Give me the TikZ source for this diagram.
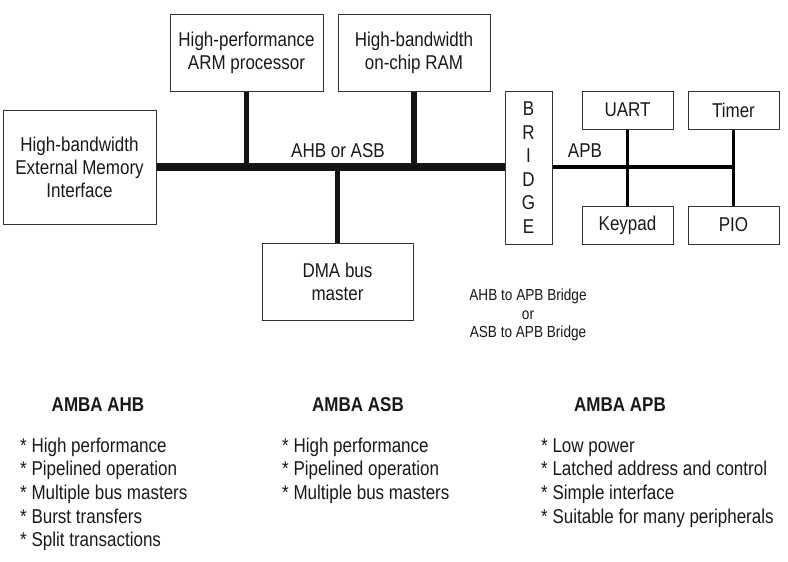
\documentclass[tikz,border=0pt]{standalone}
\usepackage{fontspec}
\setmainfont[FakeStretch=0.85]{Liberation Sans}
\begin{document}
\begin{tikzpicture}[x=1pt,y=-1pt,
  blk/.style={draw=black!80, line width=1pt, inner sep=0pt, align=center,
    font=\fontsize{20}{23}\selectfont, text=black!90},
  ahbbus/.style={line width=7.5pt, black!92},
  stem/.style={line width=5.5pt, black!92},
  apbbus/.style={line width=3.6pt, black},
  lbl/.style={font=\fontsize{20}{23}\selectfont, inner sep=0pt, text=black!90},
  captext/.style={font=\fontsize{16}{18.5}\selectfont, inner sep=0pt, align=center, text=black!90},
  head/.style={font=\fontsize{20}{23}\selectfont\bfseries, inner sep=0pt, anchor=base, text=black!90},
  item/.style={font=\fontsize{20}{23}\selectfont, inner sep=0pt, anchor=base west, text=black!90}
]
\useasboundingbox (0,0) rectangle (788,562);

% AHB side blocks
\node[blk, minimum width=153pt, minimum height=77pt] (arm) at (246.5,52.5) {High-performance\\ARM processor};
\node[blk, minimum width=152pt, minimum height=77pt] (ram) at (414,52.5) {High-bandwidth\\on-chip RAM};
\node[blk, minimum width=153pt, minimum height=114pt] (emi) at (79.5,167) {High-bandwidth\\External Memory\\Interface};
\node[blk, minimum width=151pt, minimum height=77pt] (dma) at (337.5,281.5) {DMA bus\\master};
\node[blk, minimum width=47pt, minimum height=153pt, font=\fontsize{20}{23.5}\selectfont] (bridge) at (528.5,167.5) {B\\R\\I\\D\\G\\E};

% APB side blocks
\node[blk, minimum width=91pt, minimum height=38pt] (uart) at (627.5,110) {UART};
\node[blk, minimum width=91pt, minimum height=38pt] (timer) at (733.5,110) {Timer};
\node[blk, minimum width=91pt, minimum height=38pt] (keypad) at (627.5,225) {Keypad};
\node[blk, minimum width=91pt, minimum height=38pt] (pio) at (733.5,225) {PIO};

% AHB / ASB bus
\draw[ahbbus] (emi.east) -- (emi.east -| bridge.west);
\draw[stem] (arm.south) -- (arm.south |- emi.east);
\draw[stem] (ram.south) -- (ram.south |- emi.east);
\draw[stem] (dma.north) -- (dma.north |- emi.east);

% APB bus
\draw[apbbus] (bridge.east |- emi.east) -- (timer.south |- emi.east);
\draw[apbbus] (uart.south) -- (keypad.north);
\draw[apbbus] (timer.south) -- (pio.north);

% labels
\node[lbl] (ahblbl) at (338,151) {AHB or ASB};
\node[lbl] (apblbl) at (585,151) {APB};
\node[captext] (bridgecap) at (528,315) {AHB to APB Bridge\\or\\ASB to APB Bridge};

% headings
\node[head] (hahb) at (98,411) {AMBA AHB};
\node[head] (hasb) at (358,411) {AMBA ASB};
\node[head] (hapb) at (620,411) {AMBA APB};

% feature lists
\foreach \t [count=\i from 0] in {High performance, Pipelined operation, Multiple bus masters, Burst transfers, Split transactions}
  \node[item] (ahbitem\i) at (20,452+23.7*\i) {* \t};
\foreach \t [count=\i from 0] in {High performance, Pipelined operation, Multiple bus masters}
  \node[item] (asbitem\i) at (282,452+23.7*\i) {* \t};
\foreach \t [count=\i from 0] in {Low power, Latched address and control, Simple interface, Suitable for many peripherals}
  \node[item] (apbitem\i) at (541,452+23.7*\i) {* \t};
\end{tikzpicture}
\end{document}
